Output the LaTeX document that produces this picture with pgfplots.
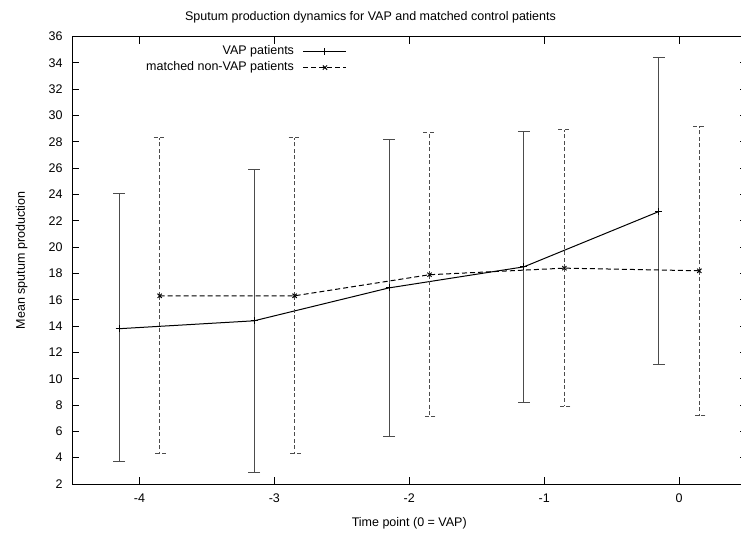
\documentclass[border=0pt]{standalone}
\usepackage{fontspec}
\setmainfont{Liberation Sans}
\usepackage{pgfplots}
\pgfplotsset{compat=1.18}
\usepackage{pgfplotstable}

% mean sputum production with lower / upper limits per time point
\pgfplotstableread{
x     mean  lo    hi
-4.15 13.8  3.7   24.1
-3.15 14.4  2.9   25.9
-2.15 16.9  5.6   28.2
-1.15 18.5  8.2   28.8
-0.15 22.7  11.1  34.4
}\vapdata
\pgfplotstableread{
x     mean  lo    hi
-3.85 16.3  4.3   28.3
-2.85 16.3  4.3   28.3
-1.85 17.9  7.1   28.7
-0.85 18.4  7.9   28.9
0.15  18.2  7.2   29.2
}\nonvapdata

\newcommand{\chartfont}{\fontsize{12.5pt}{15pt}\selectfont}

\begin{document}
\begin{tikzpicture}[font=\chartfont]
\begin{axis}[
  at={(72pt,52pt)}, anchor=south west,
  width=674.5pt, height=447.5pt, scale only axis,
  xmin=-4.5, xmax=0.5, ymin=2, ymax=36,
  xtick={-4,-3,-2,-1,0}, ytick={2,4,...,36},
  tick align=inside, major tick length=7pt,
  axis line style={line width=1pt, black},
  every tick/.style={line width=1pt, black},
  /pgf/number format/assume math mode=true,
  tick label style={font=\chartfont},
  xticklabel style={yshift=-6.5pt},
  yticklabel style={xshift=-6pt},
  xlabel={Time point (0 = VAP)},
  ylabel={Mean sputum production},
  xlabel style={at={(axis description cs:0.5,0)}, anchor=base, yshift=-42pt},
  ylabel style={at={(axis description cs:-0.0697,0.5)}, anchor=base},
  legend cell align=right,
  legend plot pos=right,
  legend style={at={(axis description cs:0.4077,0.9799)}, anchor=north east,
    draw=none, fill=none, inner sep=0pt, outer sep=0pt,
    row sep=3.9pt, column sep=9pt, font=\chartfont,
    nodes={inner sep=0pt, text height=9.5pt, text depth=2.6pt}},
]
\addplot[black, line width=1pt, mark=+, mark size=3.5pt,
  legend image code/.code={\draw[mark repeat=2, mark phase=2]
    plot coordinates {(0pt,0pt) (21.5pt,0pt) (43pt,0pt)};},
  error bars/.cd, y dir=both, y explicit,
  error bar style={line width=1pt, black!70},
  error mark options={rotate=90, mark size=6pt, line width=1pt, black!70}]
  table[x=x, y=mean,
    y error plus expr=\thisrow{hi}-\thisrow{mean},
    y error minus expr=\thisrow{mean}-\thisrow{lo}] {\vapdata};
\addlegendentry{VAP patients}

\addplot[black, line width=1pt, dash pattern=on 5pt off 3pt,
  mark=x, mark size=3pt, mark options={solid},
  legend image code/.code={\draw[mark repeat=2, mark phase=2]
    plot coordinates {(0pt,0pt) (21.5pt,0pt) (43pt,0pt)};},
  error bars/.cd, y dir=both, y explicit,
  error bar style={line width=1pt, black!70, dash pattern=on 4pt off 2.5pt},
  error mark options={rotate=90, mark size=6pt, line width=1pt, black!70, dash pattern=on 4pt off 2.5pt}]
  table[x=x, y=mean,
    y error plus expr=\thisrow{hi}-\thisrow{mean},
    y error minus expr=\thisrow{mean}-\thisrow{lo}] {\nonvapdata};
\addlegendentry{matched non-VAP patients}
\end{axis}
\node[anchor=base] at (370.5pt,515.5pt)
  {Sputum production dynamics for VAP and matched control patients};
\pgfresetboundingbox
\path[use as bounding box] (0,0) rectangle (741pt,536pt);
\end{tikzpicture}
\end{document}
